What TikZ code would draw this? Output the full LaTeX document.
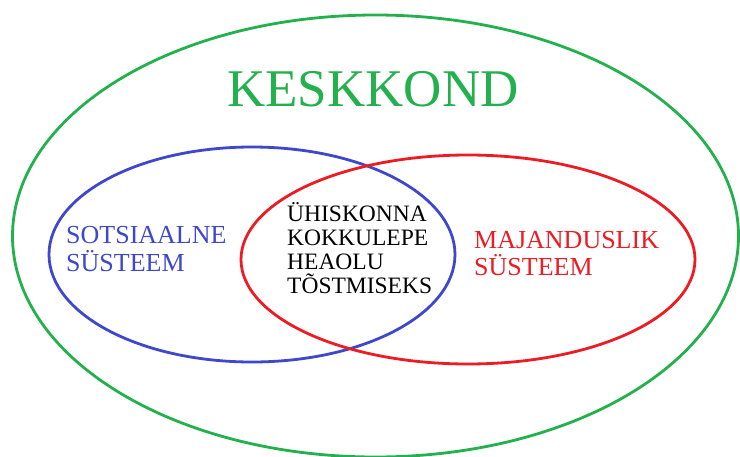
\documentclass[tikz,border=0pt]{standalone}
\usepackage{fontspec}
\setmainfont{Liberation Serif}
\definecolor{envgreen}{HTML}{22B14C}
\definecolor{socblue}{HTML}{3F48CC}
\definecolor{ecored}{HTML}{ED1C24}
\begin{document}
\begin{tikzpicture}[x=1pt,y=-1pt,
  ring/.style={line width=2.8pt},
  lbl/.style={anchor=base west,inner sep=0pt,align=left}]
\useasboundingbox (0,0) rectangle (740,456);
\clip (0,0) rectangle (740,456);
\fill[white] (0,0) rectangle (740,456);
\draw[ring,envgreen] (375.5,236) ellipse [x radius=363,y radius=221];
\draw[ring,socblue] (252,254.5) ellipse [x radius=203,y radius=107.5];
\draw[ring,ecored] (468,259.5) ellipse [x radius=227,y radius=104.5];
\node[lbl,text=envgreen,font=\fontsize{53}{60}\selectfont] (env) at (227,106) {KESKKOND};
\node[lbl,text=socblue,font=\fontsize{26}{28}\selectfont] (soc) at (66,271) {SOTSIAALNE\\SÜSTEEM};
\node[lbl,text=black,font=\fontsize{23.5}{24}\selectfont] (mid) at (287,293) {ÜHISKONNA\\KOKKULEPE\\HEAOLU\\TÕSTMISEKS};
\node[lbl,text=ecored,font=\fontsize{26}{27}\selectfont] (eco) at (474,275) {MAJANDUSLIK\\SÜSTEEM};
\end{tikzpicture}
\end{document}
